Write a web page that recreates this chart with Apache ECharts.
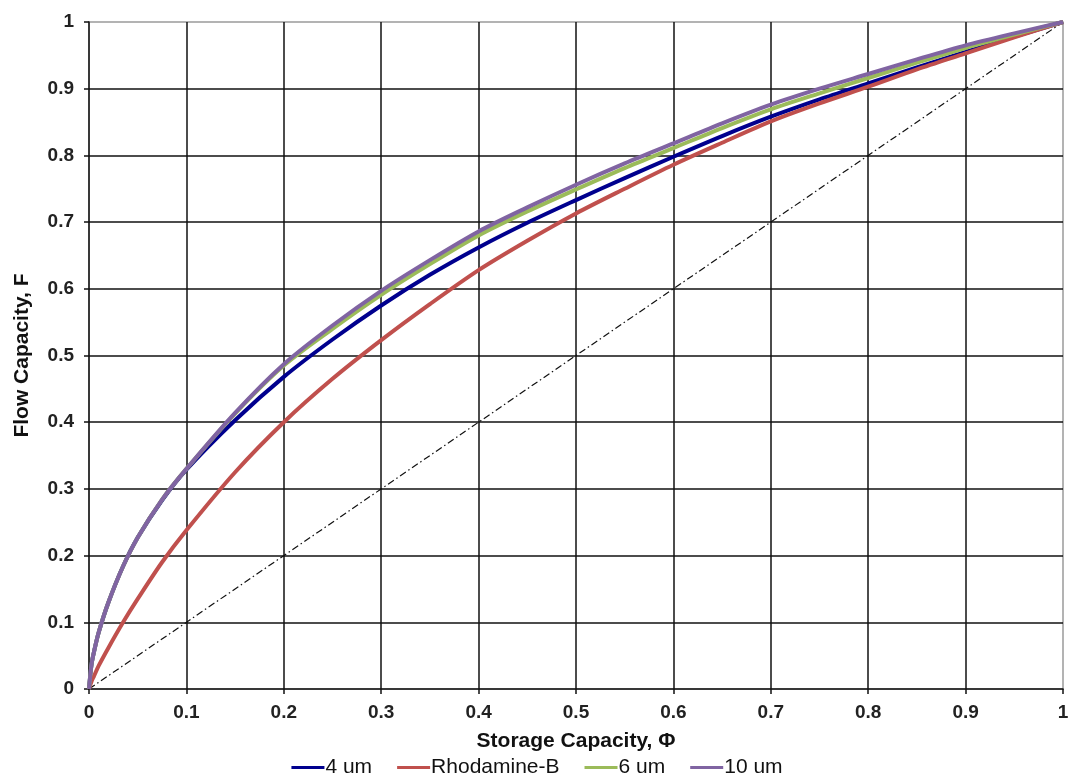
<!DOCTYPE html>
<html>
<head>
<meta charset="utf-8">
<style>
  html, body { margin: 0; padding: 0; background: #fff; }
  #chart { width: 1074px; height: 782px; }
</style>
<script src="https://cdn.jsdelivr.net/npm/echarts@6/dist/echarts.min.js"></script>
</head>
<body>
<div id="chart"></div>
<script>
// Storage capacity (x) sample points
const phi = [0, 0.0025, 0.005, 0.01, 0.02, 0.035, 0.05, 0.075, 0.1, 0.15, 0.2, 0.25, 0.3, 0.35, 0.4, 0.45, 0.5, 0.55, 0.6, 0.65, 0.7, 0.75, 0.8, 0.85, 0.9, 0.95, 1];
// Flow capacity values per series
const f4um       = [0, 0.036, 0.055, 0.085, 0.130, 0.184, 0.227, 0.283, 0.329, 0.403, 0.468, 0.524, 0.575, 0.621, 0.662, 0.699, 0.733, 0.766, 0.798, 0.829, 0.858, 0.884, 0.908, 0.932, 0.955, 0.978, 1];
const fRhodamine = [0, 0.011, 0.019, 0.035, 0.062, 0.100, 0.135, 0.190, 0.238, 0.325, 0.400, 0.465, 0.523, 0.577, 0.628, 0.672, 0.713, 0.750, 0.786, 0.819, 0.851, 0.878, 0.903, 0.929, 0.953, 0.977, 1];
const f6um       = [0, 0.036, 0.055, 0.085, 0.130, 0.184, 0.227, 0.284, 0.330, 0.413, 0.485, 0.540, 0.591, 0.637, 0.680, 0.716, 0.749, 0.781, 0.811, 0.841, 0.869, 0.893, 0.916, 0.939, 0.961, 0.981, 1];
const f10um      = [0, 0.036, 0.055, 0.085, 0.130, 0.184, 0.227, 0.284, 0.330, 0.414, 0.487, 0.545, 0.597, 0.643, 0.686, 0.722, 0.756, 0.788, 0.818, 0.848, 0.876, 0.900, 0.922, 0.944, 0.965, 0.983, 1];
// Reference diagonal F = Phi
const diagX = [0, 1];
const diagY = [0, 1];

const seriesNames = ['4 um', 'Rhodamine-B', '6 um', '10 um'];
const seriesValues = [f4um, fRhodamine, f6um, f10um];
const seriesColors = ['#00008E', '#C0504D', '#9BBB59', '#8064A2'];

const FONT = 'Liberation Sans, Arial, sans-serif';
const fmt = v => String(parseFloat(v.toFixed(1)));

const chart = echarts.init(document.getElementById('chart'), null, { renderer: 'canvas' });

const series = [{
  name: 'diag',
  type: 'line',
  data: diagX.map((x, i) => [x, diagY[i]]),
  symbol: 'none',
  silent: true,
  lineStyle: { color: '#111', width: 1.2, type: [7, 3, 1.5, 3] },
  z: 1
}].concat(seriesNames.map((n, k) => ({
  name: n,
  type: 'line',
  data: phi.map((x, i) => [x, seriesValues[k][i]]),
  symbol: 'none',
  smooth: 0.3,
  lineStyle: { color: seriesColors[k], width: 4 },
  itemStyle: { color: seriesColors[k] },
  z: 3 + k
})));

chart.setOption({
  animation: false,
  backgroundColor: '#fff',
  grid: {
    left: 89, right: 11, top: 22, bottom: 93,
    show: true, borderColor: '#9a9a9a', borderWidth: 1.5,
    containLabel: false,
    outerBoundsMode: 'none'
  },
  legend: {
    data: seriesNames,
    top: 752,
    left: 'center',
    icon: 'rect',
    itemWidth: 33,
    itemHeight: 3,
    itemGap: 25,
    textStyle: { fontFamily: FONT, fontSize: 21, color: '#111', padding: [0, 0, 0, -4] }
  },
  xAxis: {
    type: 'value',
    min: 0, max: 1, interval: 0.1,
    name: 'Storage Capacity, \u03A6',
    nameLocation: 'middle',
    nameGap: 42,
    nameTextStyle: { fontFamily: FONT, fontSize: 21, fontWeight: 'bold', color: '#111' },
    axisLine: { show: true, lineStyle: { color: '#111', width: 1.5 } },
    axisTick: { show: true, length: 5, inside: false, lineStyle: { color: '#111', width: 1.5 } },
    axisLabel: { formatter: fmt, fontFamily: FONT, fontSize: 19, fontWeight: 'bold', color: '#222', margin: 14 },
    splitLine: { show: true, showMinLine: false, showMaxLine: false, lineStyle: { color: '#111', width: 1.5 } }
  },
  yAxis: {
    type: 'value',
    min: 0, max: 1, interval: 0.1,
    name: 'Flow Capacity, F',
    nameLocation: 'middle',
    nameGap: 56,
    nameTextStyle: { fontFamily: FONT, fontSize: 21, fontWeight: 'bold', color: '#111' },
    axisLine: { show: true, lineStyle: { color: '#111', width: 1.5 } },
    axisTick: { show: true, length: 5, inside: false, lineStyle: { color: '#111', width: 1.5 } },
    axisLabel: { formatter: fmt, fontFamily: FONT, fontSize: 19, fontWeight: 'bold', color: '#222', margin: 15 },
    splitLine: { show: true, showMinLine: false, showMaxLine: false, lineStyle: { color: '#111', width: 1.5 } }
  },
  series: series
});
</script>
</body>
</html>
